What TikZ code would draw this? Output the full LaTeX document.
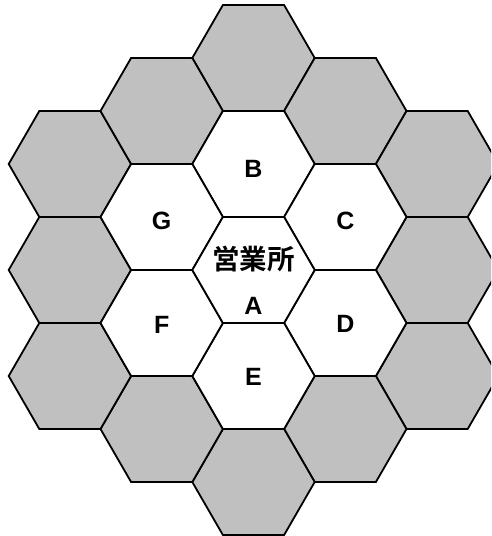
\documentclass[tikz,border=0pt]{standalone}
\usepackage{fontspec}
\setmainfont{Liberation Sans}
\newfontfamily\cjk{Noto Sans CJK JP}[BoldFont={* Bold}]
\definecolor{hexgray}{HTML}{C0C0C0}
\begin{document}
\begin{tikzpicture}[x=1pt,y=-1pt,
  hexcell/.style={draw=black,line width=1.8pt,line join=miter},
  outercell/.style={hexcell,fill=hexgray},
  innercell/.style={hexcell,fill=white},
  lab/.style={inner sep=0pt,font=\fontsize{25}{25}\selectfont\bfseries},
  cjklab/.style={inner sep=0pt,font=\cjk\fontsize{27.5}{27.5}\selectfont\bfseries}]
\useasboundingbox (0,0) rectangle (491,536);
\clip (0,0) rectangle (491,536);
\def\R{61.2}
\foreach \cx/\cy in {253.5/58,345.3/111,437.1/164,437.1/270,437.1/376,345.3/429,253.5/482,161.7/429,69.9/376,69.9/270,69.9/164,161.7/111}{
  \draw[outercell] (\cx,\cy) +(0:\R) -- +(60:\R) -- +(120:\R) -- +(180:\R) -- +(240:\R) -- +(300:\R) -- cycle;
}
\foreach \cx/\cy in {253.5/164,345.3/217,345.3/323,253.5/376,161.7/323,161.7/217,253.5/270}{
  \draw[innercell] (\cx,\cy) +(0:\R) -- +(60:\R) -- +(120:\R) -- +(180:\R) -- +(240:\R) -- +(300:\R) -- cycle;
}
\node[lab] (labB) at (253.5,169) {B};
\node[lab] (labC) at (345.3,221) {C};
\node[lab] (labD) at (345.3,324) {D};
\node[lab] (labE) at (253.5,377) {E};
\node[lab] (labF) at (161.7,325) {F};
\node[lab] (labG) at (161.7,221) {G};
\node[cjklab] (labHQ) at (253.5,259) {営業所};
\node[lab] (labA) at (253.5,306) {A};
\end{tikzpicture}
\end{document}
